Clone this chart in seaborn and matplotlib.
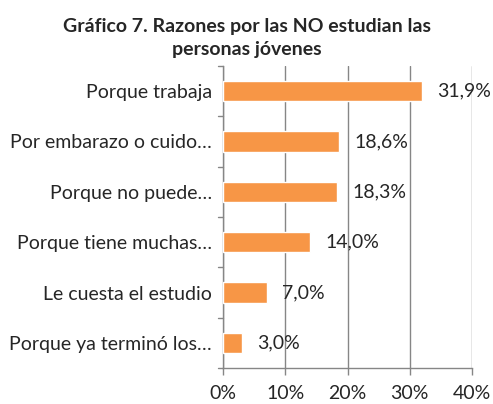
import matplotlib
matplotlib.use("Agg")
import matplotlib.pyplot as plt
import seaborn as sns
import pandas as pd

# data
categories = [
    "Porque trabaja",
    "Por embarazo o cuido…",
    "Porque no puede…",
    "Porque tiene muchas…",
    "Le cuesta el estudio",
    "Porque ya terminó los…",
]
values = [31.9, 18.6, 18.3, 14.0, 7.0, 3.0]
x_ticks = [0, 10, 20, 30, 40]

df = pd.DataFrame({"razon": categories, "pct": values})

sns.set_style("white")
plt.rcParams["font.family"] = ["Lato", "DejaVu Sans"]

fig = plt.figure(figsize=(4.93, 4.04), dpi=100)
ax = fig.add_axes([223 / 493, 1 - 368 / 404, 249 / 493, 302 / 404])

sns.barplot(data=df, x="pct", y="razon", color="#F79646", width=0.4,
            saturation=1, ax=ax, zorder=3)

ax.set_xlim(0, 40)
ax.set_xticks(x_ticks)
ax.set_xticklabels([f"{t}%" for t in x_ticks], fontsize=14)
ax.set_xlabel("")
ax.set_ylabel("")
ax.tick_params(axis="y", labelsize=14, length=0, pad=8)
ax.tick_params(axis="x", length=5, color="#868686", width=1, direction="out", pad=7)
ax.xaxis.set_ticks_position("bottom")

# vertical gridlines
ax.grid(axis="x", color="#868686", linewidth=1)
ax.set_axisbelow(True)

for side in ["top", "right"]:
    ax.spines[side].set_visible(False)
for side in ["left", "bottom"]:
    ax.spines[side].set_color("#868686")
    ax.spines[side].set_linewidth(1)

# small ticks on the category axis between bars
n = len(categories)
for k in range(n + 1):
    ax.plot([-0.02, 0], [k - 0.5, k - 0.5], transform=ax.get_yaxis_transform(),
            color="#868686", linewidth=1, clip_on=False)
ax.set_ylim(n - 0.5, -0.5)

for i, v in enumerate(values):
    ax.annotate(f"{v:.1f}%".replace(".", ","), xy=(v, i), xytext=(11, 0),
                textcoords="offset points", va="center", ha="left", fontsize=14)

fig.text(247 / 493, 1 - 38 / 404, "Gráfico 7. Razones por las NO estudian las\npersonas jóvenes",
         ha="center", va="center", fontsize=14, fontweight="bold", linespacing=1.45)

fig.savefig("out.png", dpi=100)
